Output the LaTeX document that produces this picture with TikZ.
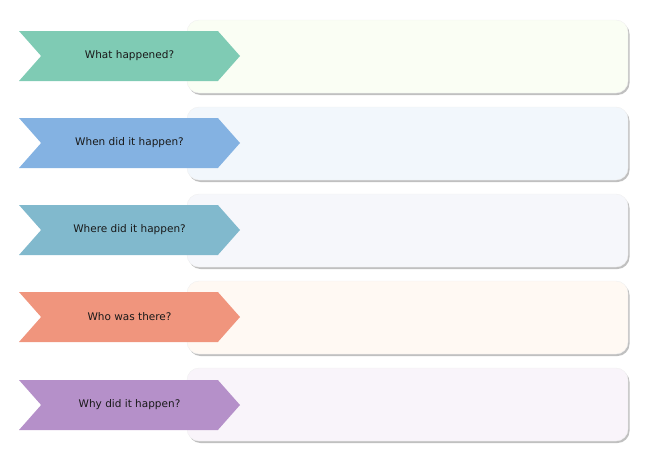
\documentclass[tikz,border=0pt]{standalone}
\usepackage{fontspec}
\setmainfont{DejaVu Sans}
\usepackage{tikz}
\usetikzlibrary{shapes.symbols,shadows}
\usepackage{xcolor}

\definecolor{tagGreen}{HTML}{7FCBB4}
\definecolor{tagBlue}{HTML}{84B2E2}
\definecolor{tagTeal}{HTML}{81B9CD}
\definecolor{tagSalmon}{HTML}{F0957D}
\definecolor{tagPurple}{HTML}{B590C9}
\definecolor{boxGreen}{HTML}{FAFEF4}
\definecolor{boxBlue}{HTML}{F2F7FC}
\definecolor{boxTeal}{HTML}{F6F7FB}
\definecolor{boxSalmon}{HTML}{FFF9F3}
\definecolor{boxPurple}{HTML}{F9F4FA}

\tikzset{
  answer/.style={rectangle, rounded corners=12pt, draw=gray!12, line width=0.4pt,
    minimum width=441pt, minimum height=73pt, inner sep=0pt,
    drop shadow={shadow xshift=1.5pt, shadow yshift=-2pt, opacity=0.55, fill=gray!90}},
  tag/.style={signal, signal to=east, signal from=west, signal pointer angle=97,
    minimum width=221pt, minimum height=50pt, inner sep=0pt,
    font=\fontsize{10.5}{12}\selectfont, text=black!90}
}

\begin{document}
\begin{tikzpicture}[x=1pt,y=-1pt]
  \useasboundingbox (0,0) rectangle (650,463);

  % Answer boxes (drawn first, the tags sit over their left ends)
  \node[answer, fill=boxGreen]  (box1) at (407.5,56.5)  {};
  \node[answer, fill=boxBlue]   (box2) at (407.5,143.5) {};
  \node[answer, fill=boxTeal]   (box3) at (407.5,230.5) {};
  \node[answer, fill=boxSalmon] (box4) at (407.5,317.5) {};
  \node[answer, fill=boxPurple] (box5) at (407.5,404.5) {};

  % Question tags
  \node[tag, fill=tagGreen]  (what)  at (129.5,56)  {What happened?};
  \node[tag, fill=tagBlue]   (when)  at (129.5,143) {When did it happen?};
  \node[tag, fill=tagTeal]   (where) at (129.5,230) {Where did it happen?};
  \node[tag, fill=tagSalmon] (who)   at (129.5,317) {Who was there?};
  \node[tag, fill=tagPurple] (why)   at (129.5,405) {Why did it happen?};
\end{tikzpicture}
\end{document}
